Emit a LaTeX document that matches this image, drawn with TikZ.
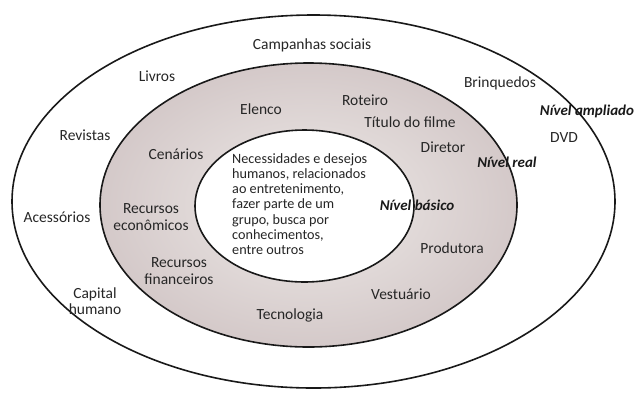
\documentclass[tikz,border=0pt]{standalone}
\usepackage{fontspec}
\setmainfont{Carlito}
\begin{document}
\begin{tikzpicture}[x=1pt,y=-1pt,
  ring/.style={draw=black!90,line width=1.6pt},
  lbl/.style={font=\fontsize{15.5}{16.5}\selectfont,align=center,inner sep=0pt,text=black!85},
  lvl/.style={font=\fontsize{15}{16}\selectfont\bfseries\itshape,inner sep=0pt,text=black!90},
  core/.style={font=\fontsize{14.2}{15.3}\selectfont,align=left,inner sep=0pt,text=black!85}]
\definecolor{ringlight}{RGB}{238,234,232}
\definecolor{ringdark}{RGB}{212,201,201}
\useasboundingbox (0,0) rectangle (640,392);
% outer
\draw[ring] (313.5,201.5) ellipse [x radius=301.5, y radius=186.5];
% middle
\shade[inner color=ringlight,outer color=ringdark] (308.5,205) ellipse [x radius=208.5, y radius=142];
\draw[ring] (308.5,205) ellipse [x radius=208.5, y radius=142];
% inner
\draw[ring,fill=white] (304.5,206) ellipse [x radius=109.5, y radius=76];
% outer level labels
\node[lbl] (camp) at (312,45) {Campanhas sociais};
\node[lbl] (livros) at (157,76) {Livros};
\node[lbl] (brinq) at (500,83) {Brinquedos};
\node[lvl] (amp) at (587,111) {Nível ampliado};
\node[lbl] (dvd) at (564,138) {DVD};
\node[lbl] (rev) at (85,135) {Revistas};
\node[lbl] (aces) at (57,217) {Acessórios};
\node[lbl] (cap) at (95,301) {Capital\\humano};
% real level labels
\node[lbl] (elenco) at (261,109) {Elenco};
\node[lbl] (roteiro) at (365,100) {Roteiro};
\node[lbl] (titulo) at (410,122) {Título do filme};
\node[lbl] (diretor) at (443,147) {Diretor};
\node[lvl] (real) at (507,162) {Nível real};
\node[lbl] (cen) at (176,154) {Cenários};
\node[lbl] (receco) at (151,217) {Recursos\\econômicos};
\node[lbl] (recfin) at (179,271) {Recursos\\financeiros};
\node[lbl] (prod) at (452,248) {Produtora};
\node[lbl] (vest) at (401,294) {Vestuário};
\node[lbl] (tec) at (290,315) {Tecnologia};
% basic level
\node[lvl] (bas) at (417,205) {Nível básico};
\node[core,anchor=north west] (need) at (232,153) {Necessidades e desejos\\humanos, relacionados\\ao entretenimento,\\fazer parte de um\\grupo, busca por\\conhecimentos,\\entre outros};
\end{tikzpicture}
\end{document}
